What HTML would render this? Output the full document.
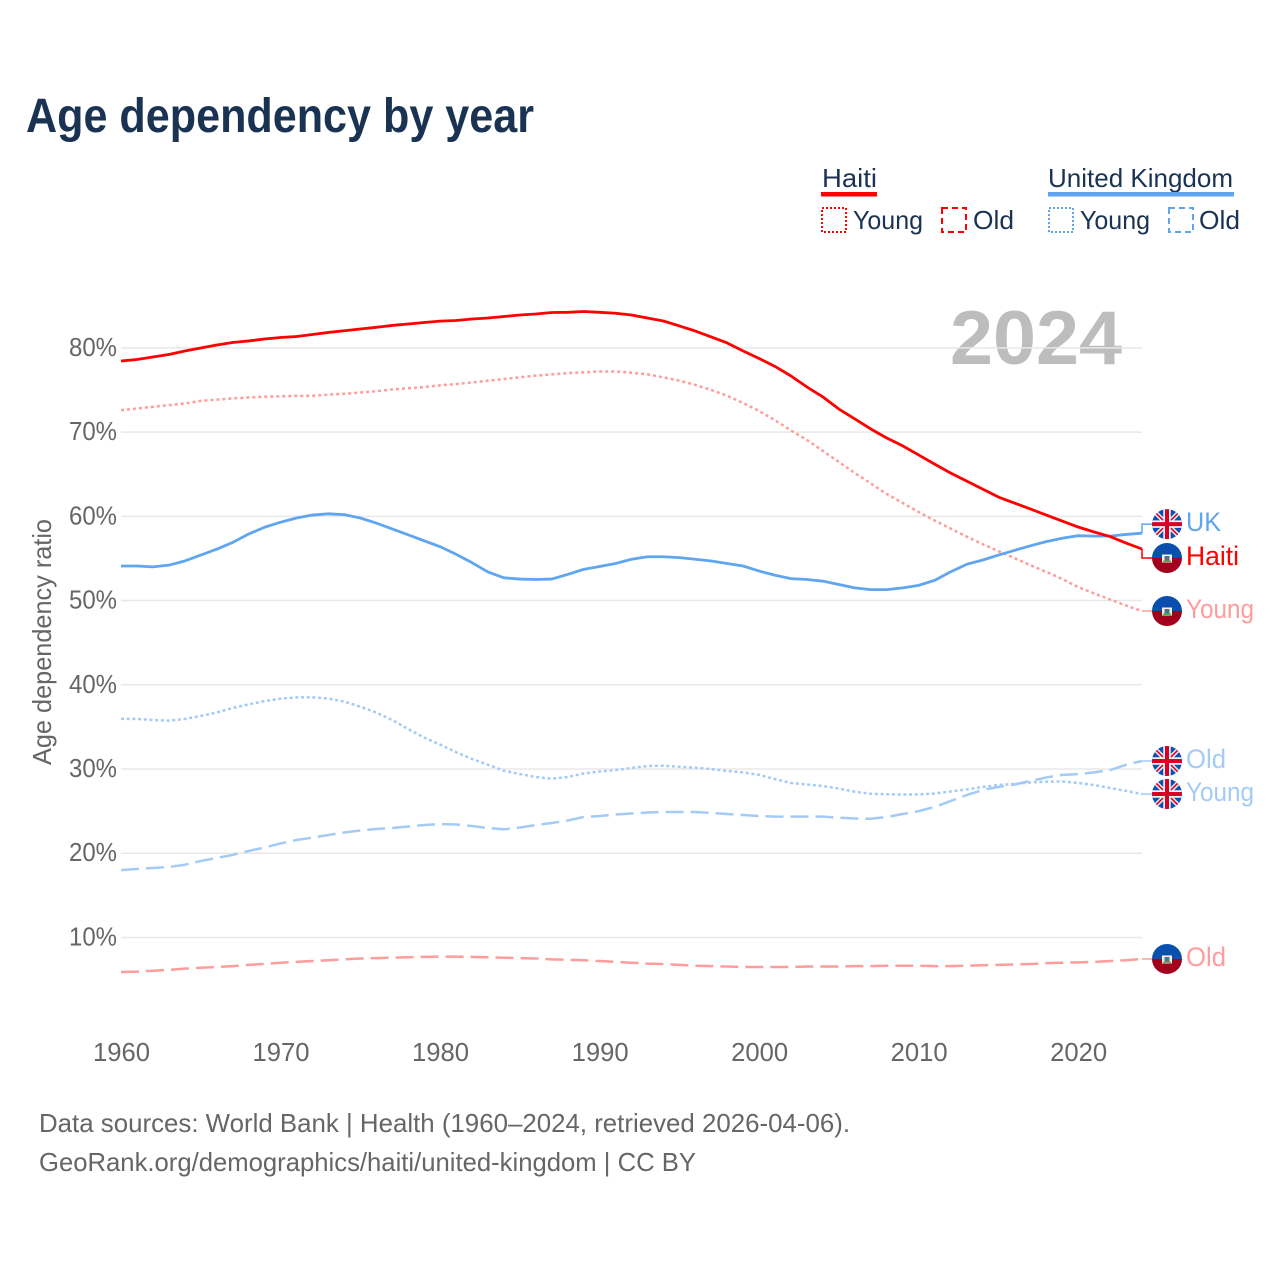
<!DOCTYPE html>
<html lang="en">
<head>
<meta charset="utf-8">
<title>Age dependency by year</title>
<style>
html,body{margin:0;padding:0;background:#fff;}
svg{display:block;}
text{font-family:"Liberation Sans",sans-serif;}
</style>
</head>
<body>
<svg id="chart" xmlns="http://www.w3.org/2000/svg" width="1280" height="1280" viewBox="0 0 1280 1280">
  <defs>
    <clipPath id="flag-clip"><circle cx="0" cy="0" r="15"/></clipPath>
    <g id="flag-uk" clip-path="url(#flag-clip)">
      <rect x="-15" y="-15" width="30" height="30" fill="#0a52b0"/>
      <path d="M-15,-15L15,15M15,-15L-15,15" stroke="#f0f0f0" stroke-width="4.5"/>
      <path d="M-15,-15L15,15M15,-15L-15,15" stroke="#d80027" stroke-width="1.6"/>
      <path d="M0,-15V15M-15,0H15" stroke="#f0f0f0" stroke-width="7.5"/>
      <path d="M0,-15V15M-15,0H15" stroke="#d80027" stroke-width="4"/>
    </g>
    <g id="flag-ht" clip-path="url(#flag-clip)">
      <rect x="-15" y="-15" width="30" height="15" fill="#0a4fae"/>
      <rect x="-15" y="0" width="30" height="15" fill="#a2001d"/>
      <rect x="-5" y="-3.5" width="10" height="8" fill="#f2f2f2"/>
      <rect x="-2.5" y="-2" width="5" height="4.5" fill="#56708a"/>
      <rect x="-4" y="2.5" width="8" height="1.5" fill="#6da544"/>
    </g>
  </defs>

  <text x="26" y="132" font-size="48" font-weight="700" fill="#1a3353" textLength="508" lengthAdjust="spacingAndGlyphs">Age dependency by year</text>

  <g font-size="26" fill="#1a3353">
    <g>
      <text x="822" y="187" textLength="55" lengthAdjust="spacingAndGlyphs">Haiti</text>
      <rect x="821" y="192" width="56" height="4.5" fill="#ff0000"/>
      <rect x="822" y="208" width="24" height="24" fill="none" stroke="#ff0000" stroke-width="2" stroke-dasharray="2 2"/>
      <text x="853" y="229" textLength="70" lengthAdjust="spacingAndGlyphs">Young</text>
      <rect x="942" y="208" width="24" height="24" fill="none" stroke="#ff0000" stroke-width="2" stroke-dasharray="6 4"/>
      <text x="973" y="229" textLength="41" lengthAdjust="spacingAndGlyphs">Old</text>
    </g>
    <g>
      <text x="1048" y="187" textLength="185" lengthAdjust="spacingAndGlyphs">United Kingdom</text>
      <rect x="1048" y="192" width="186" height="4.5" fill="#60a5f0"/>
      <rect x="1049" y="208" width="24" height="24" fill="none" stroke="#60a5f0" stroke-width="2" stroke-dasharray="2 2"/>
      <text x="1080" y="229" textLength="70" lengthAdjust="spacingAndGlyphs">Young</text>
      <rect x="1169" y="208" width="24" height="24" fill="none" stroke="#60a5f0" stroke-width="2" stroke-dasharray="6 4"/>
      <text x="1199" y="229" textLength="41" lengthAdjust="spacingAndGlyphs">Old</text>
    </g>
  </g>

  <text x="950" y="364" font-size="76" font-weight="700" fill="#bdbdbd" textLength="172" lengthAdjust="spacingAndGlyphs">2024</text>

  <g id="grid"></g>
  <g id="yticks"></g>
  <g id="xticks"></g>
  <text transform="translate(51,642) rotate(-90)" text-anchor="middle" font-size="26" fill="#666666" textLength="246" lengthAdjust="spacingAndGlyphs">Age dependency ratio</text>
  <g id="series"></g>
  <g id="labels"></g>

  <g font-size="26" fill="#666666">
    <text x="39" y="1132" textLength="811" lengthAdjust="spacingAndGlyphs">Data sources: World Bank | Health (1960–2024, retrieved 2026-04-06).</text>
    <text x="39" y="1171" textLength="657" lengthAdjust="spacingAndGlyphs">GeoRank.org/demographics/haiti/united-kingdom | CC BY</text>
  </g>
</svg>
<script>
const NS = 'http://www.w3.org/2000/svg';
const startYear = 1960;
const yTickValues = [10, 20, 30, 40, 50, 60, 70, 80];
const xTickValues = [1960, 1970, 1980, 1990, 2000, 2010, 2020];

const haitiTotal = [78.44,78.62,78.92,79.21,79.63,79.98,80.34,80.64,80.82,81.05,81.23,81.35,81.59,81.83,82.03,82.24,82.44,82.66,82.83,83.01,83.17,83.25,83.43,83.55,83.72,83.90,84.02,84.2,84.22,84.32,84.22,84.11,83.9,83.55,83.19,82.6,82.0,81.29,80.58,79.63,78.74,77.79,76.66,75.35,74.17,72.74,71.56,70.37,69.3,68.36,67.29,66.2,65.14,64.19,63.24,62.29,61.58,60.87,60.15,59.44,58.73,58.14,57.6,56.83,56.12];
const haitiYoung = [72.6,72.8,73.0,73.2,73.4,73.7,73.85,74.0,74.1,74.2,74.25,74.3,74.3,74.45,74.55,74.7,74.85,75.05,75.2,75.35,75.55,75.7,75.9,76.1,76.3,76.5,76.7,76.85,77.0,77.1,77.2,77.2,77.05,76.85,76.5,76.1,75.6,75.0,74.3,73.45,72.5,71.4,70.19,69.06,67.76,66.45,65.14,63.9,62.65,61.58,60.51,59.5,58.55,57.6,56.7,55.87,55.04,54.2,53.4,52.56,51.6,50.84,50.13,49.4,48.76];
const haitiOld = [5.9,5.95,6.05,6.15,6.3,6.4,6.5,6.6,6.75,6.85,7.0,7.1,7.2,7.3,7.4,7.5,7.55,7.6,7.65,7.7,7.72,7.72,7.7,7.65,7.6,7.55,7.5,7.4,7.35,7.3,7.2,7.1,7.0,6.9,6.85,6.75,6.65,6.6,6.55,6.5,6.5,6.5,6.5,6.55,6.55,6.55,6.6,6.6,6.65,6.65,6.65,6.6,6.6,6.65,6.7,6.75,6.8,6.85,6.95,7.0,7.05,7.1,7.2,7.3,7.45];
const ukTotal = [54.1,54.1,54.0,54.2,54.7,55.4,56.1,56.9,57.9,58.7,59.3,59.8,60.15,60.3,60.2,59.8,59.2,58.5,57.8,57.1,56.4,55.5,54.5,53.4,52.7,52.55,52.5,52.55,53.1,53.7,54.05,54.4,54.9,55.2,55.2,55.1,54.9,54.7,54.4,54.1,53.5,53.0,52.6,52.5,52.3,51.9,51.5,51.3,51.3,51.5,51.8,52.4,53.4,54.3,54.8,55.4,55.95,56.5,57.0,57.4,57.7,57.65,57.65,57.85,58.0];
const ukYoung = [35.97,35.94,35.82,35.74,35.94,36.3,36.7,37.25,37.67,38.07,38.35,38.5,38.5,38.37,38.0,37.4,36.7,35.82,34.75,33.74,32.9,32.0,31.2,30.5,29.8,29.4,29.05,28.85,29.05,29.47,29.7,29.88,30.12,30.36,30.4,30.27,30.15,30.0,29.76,29.6,29.3,28.8,28.34,28.16,27.98,27.68,27.3,27.06,27.0,26.97,26.97,27.09,27.33,27.57,27.87,28.1,28.22,28.4,28.5,28.52,28.34,28.1,27.75,27.4,27.03];
const ukOld = [18.0,18.13,18.25,18.37,18.64,19.08,19.44,19.8,20.27,20.68,21.16,21.57,21.85,22.17,22.46,22.7,22.88,23.0,23.17,23.35,23.47,23.41,23.23,23.0,22.84,23.05,23.35,23.59,23.89,24.3,24.42,24.6,24.72,24.83,24.9,24.9,24.9,24.78,24.66,24.54,24.42,24.34,24.34,24.34,24.34,24.22,24.13,24.1,24.3,24.66,25.0,25.5,26.2,26.9,27.5,27.87,28.16,28.58,29.0,29.3,29.4,29.6,29.88,30.5,30.95];

function xScale(year) { return 121 + (year - startYear) * 15.953; }
function yScale(value) { return 1021.7 - value * 8.423; }

const seriesDefs = [
  { key:'haiti-old', values:haitiOld, color:'#ff9c9c', dash:'18 7', width:2.5, label:'Old', flag:'flag-ht', dodge:0 },
  { key:'uk-young', values:ukYoung, color:'#a4cbf5', dash:'3 2.7', width:2.5, label:'Young', flag:'flag-uk', dodge:0 },
  { key:'uk-old', values:ukOld, color:'#a4cbf5', dash:'18 7', width:2.5, label:'Old', flag:'flag-uk', dodge:0 },
  { key:'haiti-young', values:haitiYoung, color:'#ff9c9c', dash:'3 3', width:2.5, label:'Young', flag:'flag-ht', dodge:0 },
  { key:'uk-total', values:ukTotal, color:'#60a5f0', dash:'', width:2.8, label:'UK', flag:'flag-uk', dodge:-9 },
  { key:'haiti-total', values:haitiTotal, color:'#ff0000', dash:'', width:2.8, label:'Haiti', flag:'flag-ht', dodge:9 }
];

function make(tag, attrs, parent) {
  const el = document.createElementNS(NS, tag);
  Object.keys(attrs).forEach(function (k) { el.setAttribute(k, attrs[k]); });
  parent.appendChild(el);
  return el;
}

const gridG = document.getElementById('grid');
const yG = document.getElementById('yticks');
yTickValues.forEach(function (v) {
  const line = make('line', { x1:121, x2:1142, y1:yScale(v), y2:yScale(v), stroke:'#e8e8e8', 'stroke-width':1.5 }, gridG);
  
  
  const t = make('text', { x:117, y:yScale(v) + 8, 'text-anchor':'end', 'font-size':26, fill:'#666666', textLength:48, lengthAdjust:'spacingAndGlyphs' }, yG);
  
  
  t.textContent = v + '%';
});

const xG = document.getElementById('xticks');
xTickValues.forEach(function (yr) {
  const t = make('text', { x:xScale(yr) + 0.5, y:1061, 'text-anchor':'middle', 'font-size':26, fill:'#666666', textLength:57, lengthAdjust:'spacingAndGlyphs' }, xG);
  
  
  t.textContent = yr;
});

const seriesG = document.getElementById('series');
const labelsG = document.getElementById('labels');
const labelWidths = { UK:35, Haiti:53, Young:68, Old:40 };
seriesDefs.forEach(function (s) {
  const pts = s.values.map(function (v, i) { return xScale(startYear + i).toFixed(2) + ',' + yScale(v).toFixed(2); });
  const line = make('polyline', { points:pts.join(' '), fill:'none', stroke:s.color, 'stroke-width':s.width, 'stroke-linejoin':'round' }, seriesG);
  if (s.dash) line.setAttribute('stroke-dasharray', s.dash);
  
  

  const endX = xScale(startYear + s.values.length - 1);
  const endY = yScale(s.values[s.values.length - 1]);
  const labelY = endY + s.dodge;
  const connector = make('polyline', { points:endX + ',' + endY + ' ' + endX + ',' + labelY + ' 1153,' + labelY, fill:'none', stroke:s.color, 'stroke-width':1.5 }, labelsG);
  
  

  const flag = make('use', { href:'#' + s.flag, x:1167, y:labelY }, labelsG);
  
  

  const t = make('text', { x:1186, y:labelY + 7, 'font-size':27, fill:s.color, textLength:labelWidths[s.label], lengthAdjust:'spacingAndGlyphs' }, labelsG);
  
  
  t.textContent = s.label;
});
</script>
</body>
</html>
